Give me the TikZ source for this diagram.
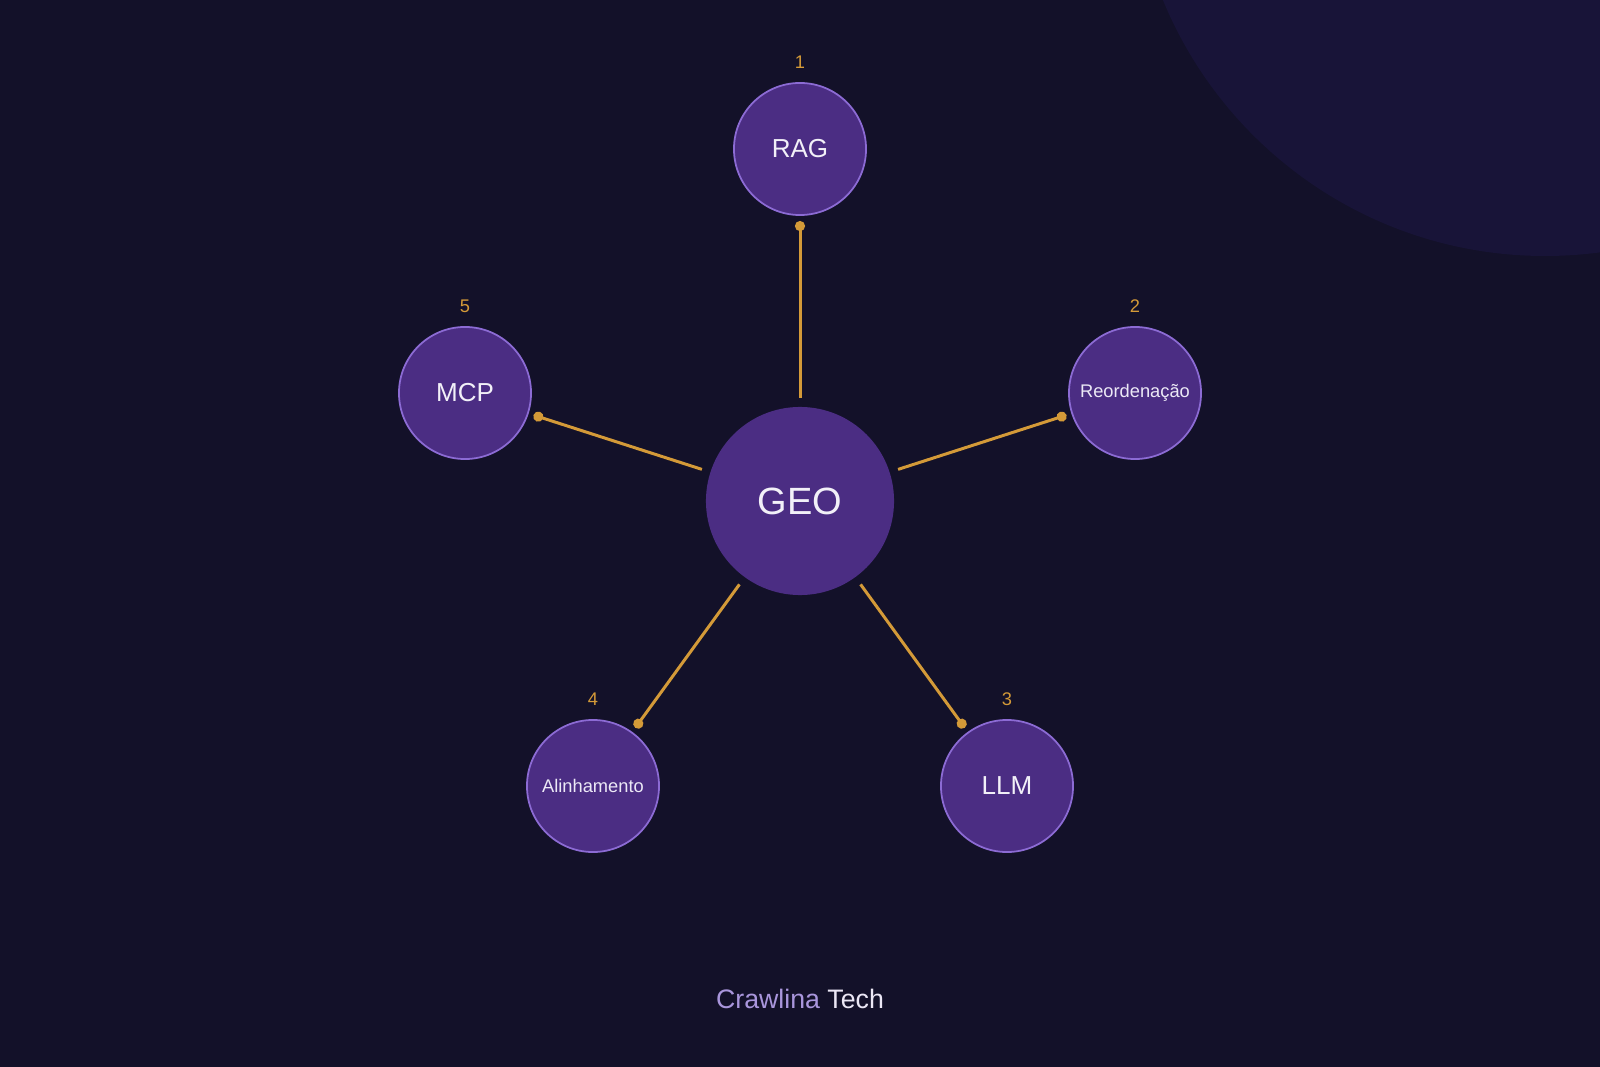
\documentclass[tikz,border=0pt]{standalone}
\usepackage{fontspec}
\setmainfont{Liberation Sans}
\usetikzlibrary{arrows.meta}

\definecolor{bgdark}{HTML}{131129}
\definecolor{bgglow}{HTML}{181438}
\definecolor{nodefill}{HTML}{4B2D83}
\definecolor{nodeline}{HTML}{8C6BD4}
\definecolor{gold}{HTML}{D49A38}
\definecolor{softwhite}{HTML}{F2F0F8}
\definecolor{lavender}{HTML}{A996DC}

\begin{document}
\begin{tikzpicture}[x=0.01cm, y=-0.01cm,
    topic/.style={circle, fill=nodefill, draw=nodeline, line width=0.5pt,
      minimum size=1.32cm, inner sep=0pt, outer sep=0pt, text=softwhite},
    hub/.style={circle, fill=nodefill, minimum size=1.88cm, inner sep=0pt,
      outer sep=0pt, text=softwhite, font=\fontsize{10.8}{12}\selectfont},
    big/.style={font=\fontsize{7.4}{9}\selectfont},
    small/.style={font=\fontsize{5.2}{6}\selectfont, text=softwhite!92!lavender},
    num/.style={text=gold, inner sep=0pt, label distance=0.14cm,
      font=\fontsize{5.2}{6}\selectfont},
    link/.style={draw=gold, line width=0.85pt, shorten <=0.09cm, shorten >=0.06cm,
      -{Circle[length=0.1cm]}}]
  \useasboundingbox (0,0) rectangle (1600,1067);
  \fill[bgdark] (0,0) rectangle (1600,1067);

  % glow in the corner
  \begin{scope}
    \clip (0,0) rectangle (1600,1067);
    \fill[bgglow] (1545,-157) circle (413);
  \end{scope}

  \coordinate (c0) at (800, 501);

  \coordinate (c1) at (800, 149);
  \coordinate (c2) at (1135, 393);

  \coordinate (c3) at (1007, 786);
  \coordinate (c4) at (593, 786);
  \coordinate (c5) at (465, 393);

  \node[hub] (geo) at (c0) {GEO};

  \node[topic, big, label={[num]above:1}] (rag) at (c1) {RAG};
  \node[topic, small, label={[num]above:2}] (reord) at (c2) {Reordenação};
  \node[topic, big, label={[num]above:3}] (llm) at (c3) {LLM};
  \node[topic, small, label={[num]above:4}] (alin) at (c4) {Alinhamento};
  \node[topic, big, label={[num]above:5}] (mcp) at (c5) {MCP};

  \draw[link] (geo) -- (rag);
  \draw[link] (geo) -- (reord);
  \draw[link] (geo) -- (llm);
  \draw[link] (geo) -- (alin);
  \draw[link] (geo) -- (mcp);

  \node[font=\fontsize{7.6}{9}\selectfont, text=softwhite!90!lavender] (brand) at (800, 999)
    {\textcolor{lavender}{Crawlina} Tech};
\end{tikzpicture}
\end{document}
